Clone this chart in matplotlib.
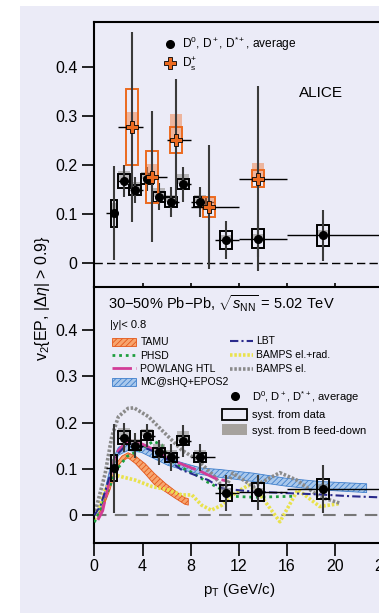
import numpy as np
import matplotlib
matplotlib.use("Agg")
import matplotlib.pyplot as plt
from matplotlib.lines import Line2D
from matplotlib.patches import Patch, Rectangle

plt.rcParams["font.family"] = ["Liberation Sans", "DejaVu Sans"]
plt.rcParams["mathtext.fontset"] = "custom"
plt.rcParams["mathtext.rm"] = "Liberation Sans"
plt.rcParams["mathtext.it"] = "Liberation Sans:italic"
plt.rcParams["mathtext.bf"] = "Liberation Sans:bold"
plt.rcParams["hatch.linewidth"] = 0.6

# ---- data: D0, D+, D*+ average ----
d_pt = [1.6, 2.45, 3.4, 4.35, 5.4, 6.4, 7.4, 8.8, 10.9, 13.6, 18.95]
d_lo = [1, 2, 3, 4, 5, 6, 7, 8, 10, 12, 16]
d_hi = [2, 3, 4, 5, 6, 7, 8, 10, 12, 16, 24]
d_v2 = [0.102, 0.168, 0.150, 0.172, 0.136, 0.125, 0.161, 0.125, 0.048, 0.050, 0.057]
d_stat = [0.096, 0.032, 0.027, 0.025, 0.027, 0.030, 0.035, 0.030, 0.039, 0.038, 0.052]
d_syst = [0.028, 0.014, 0.010, 0.010, 0.010, 0.010, 0.010, 0.010, 0.018, 0.019, 0.022]
d_fd = [0.020, 0.020, 0.015, 0.015, 0.018, 0.015, 0.022, 0.015, 0.010, 0.010, 0.010]

# ---- data: Ds+ ----
ds_pt = [3.15, 4.8, 6.75, 9.55, 13.6]
ds_lo = [2, 4, 6, 8, 12]
ds_hi = [4, 6, 8, 12, 16]
ds_v2 = [0.278, 0.177, 0.252, 0.115, 0.173]
ds_stat = [0.194, 0.133, 0.124, 0.127, 0.189]
ds_syst = [0.078, 0.053, 0.026, 0.021, 0.018]
ds_fd = [0.030, 0.025, 0.053, 0.020, 0.032]

# ---- models ----
tamu_x = [0.3, 0.6, 1.0, 1.3, 1.7, 2.0, 2.3, 2.8, 3.4, 4.2, 5.0, 5.9, 6.7, 7.5, 7.8]
tamu_lo = [-0.005, 0.006, 0.035, 0.055, 0.090, 0.108, 0.117, 0.124, 0.112, 0.090, 0.066, 0.051, 0.037, 0.024, 0.022]
tamu_hi = [0.000, 0.014, 0.045, 0.066, 0.102, 0.118, 0.128, 0.135, 0.128, 0.112, 0.090, 0.069, 0.053, 0.038, 0.036]

mc_x = [0.3, 0.8, 1.4, 2.0, 2.8, 3.9, 5.0, 6.1, 7.5, 8.9, 10.4, 13.2, 15.9, 18.7, 22.6]
mc_lo = [-0.004, 0.030, 0.095, 0.130, 0.140, 0.136, 0.122, 0.108, 0.097, 0.088, 0.082, 0.073, 0.063, 0.055, 0.049]
mc_hi = [0.004, 0.045, 0.112, 0.147, 0.155, 0.151, 0.138, 0.123, 0.112, 0.102, 0.099, 0.091, 0.080, 0.073, 0.068]

phsd_x = [0, 0.5, 1.0, 1.85, 2.7, 3.8, 4.9, 5.6, 6.2, 7.1, 8.2, 9.3, 10.4, 11.5, 13.2, 14.9, 16.5]
phsd_y = [-0.015, 0.010, 0.045, 0.098, 0.127, 0.141, 0.160, 0.152, 0.122, 0.105, 0.091, 0.073, 0.058, 0.041, 0.039, 0.040, 0.041]

pow_x = [0.3, 0.7, 1.2, 1.6, 2.0, 2.8, 3.65, 4.76, 6.14, 7.5, 8.9, 10.0, 11.0]
pow_y = [-0.010, 0.010, 0.070, 0.115, 0.140, 0.162, 0.158, 0.144, 0.122, 0.108, 0.094, 0.080, 0.074]

lbt_x = [0, 0.5, 1.0, 1.5, 2.0, 2.8, 3.9, 5.0, 6.1, 7.25, 8.35, 9.46, 10.57, 13.2, 15.9, 18.7, 21.4, 24.5]
lbt_y = [0.000, 0.020, 0.060, 0.105, 0.134, 0.156, 0.149, 0.137, 0.120, 0.098, 0.087, 0.076, 0.058, 0.051, 0.048, 0.045, 0.041, 0.038]

bel_x = [0, 0.9, 1.45, 2.0, 2.8, 3.3, 4.5, 5.6, 7.25, 8.6, 10.0, 10.8, 11.5, 13.2, 15.4, 16.8, 18.7, 20.4]
bel_y = [0.000, 0.090, 0.170, 0.213, 0.231, 0.232, 0.213, 0.184, 0.141, 0.119, 0.083, 0.055, 0.091, 0.062, 0.092, 0.076, 0.040, 0.026]

brad_x = [0, 0.9, 1.7, 2.3, 3.4, 4.8, 6.1, 7.25, 8.1, 8.9, 9.7, 10.6, 11.7, 12.8, 13.6, 15.4, 16.9, 18.7, 20.3]
brad_y = [-0.010, 0.055, 0.087, 0.083, 0.076, 0.062, 0.055, 0.044, 0.044, 0.022, 0.011, 0.022, 0.048, 0.065, 0.050, -0.014, 0.055, 0.019, 0.025]

xticks = [0, 4, 8, 12, 16, 20, 24]
yticks = [0, 0.1, 0.2, 0.3, 0.4]
ytick_labels = ["0", "0.1", "0.2", "0.3", "0.4"]

# ---- styles ----
ORANGE = "#EC6A1F"
LAV = "#EBEBF7"
d_boxw = [0.5, 1, 1, 1, 1, 1, 1, 1, 1, 1, 1]
W, H = 379, 613

fig = plt.figure(figsize=(W / 100, H / 100), dpi=100)
fig.patches.append(Rectangle((20 / W, 0), 1, 607 / H, transform=fig.transFigure,
                             facecolor=LAV, edgecolor="none", zorder=-10))

x0 = 94.3
pxu = 12.05
xmax = 24.5
ax_w = xmax * pxu / W
ax1 = fig.add_axes([x0 / W, 1 - 286.7 / H, ax_w, 265.0 / H])
ax2 = fig.add_axes([x0 / W, 1 - 542.7 / H, ax_w, 256.0 / H])

for ax in (ax1, ax2):
    ax.set_facecolor("none")
    ax.set_xlim(0, xmax)
    ax.set_xticks(xticks)
    ax.set_yticks(yticks)
    ax.set_yticklabels(ytick_labels)
    for s in ax.spines.values():
        s.set_linewidth(1.5)
    ax.spines["right"].set_visible(False)
    ax.tick_params(axis="y", direction="out", length=9, width=1.2, labelsize=11.5, pad=3)
    ax.axhline(0, color="black" if ax is ax1 else "#777777", lw=1.0 if ax is ax1 else 1.5,
               ls=(0, (6, 3)) if ax is ax1 else (0, (6, 4)), zorder=1)

ax1.set_ylim(-0.0478, 0.493)
ax2.set_ylim(-0.0592, 0.4937)
ax1.tick_params(axis="x", direction="in", length=3, width=1.2, labelbottom=False)
ax2.tick_params(axis="x", direction="out", length=9, width=1.2, labelsize=11.5, pad=3)
ax2.spines["top"].set_visible(False)


def draw_d(ax):
    v = np.array(d_v2)
    s = np.array(d_syst)
    ax.bar(d_pt, d_fd, bottom=v, width=d_boxw, color="#8c8985", alpha=0.55, lw=0, zorder=4)
    ax.bar(d_pt, 2 * s, bottom=v - s, width=d_boxw, fill=False, edgecolor="black", lw=1.4, zorder=5)
    ax.errorbar(d_pt, d_v2, yerr=d_stat, fmt="none", ecolor="#3a3a3a", elinewidth=1.5, zorder=5)
    xl = np.array(d_pt) - np.array(d_lo)
    xh = np.array(d_hi) - np.array(d_pt)
    ax.errorbar(d_pt, d_v2, xerr=[xl, xh], fmt="none", ecolor="black", elinewidth=1.0, zorder=5)
    ax.plot(d_pt, d_v2, "o", color="black", ms=5.5, zorder=7)


# ---- top panel ----
draw_d(ax1)
v = np.array(ds_v2)
s = np.array(ds_syst)
ax1.bar(ds_pt, ds_fd, bottom=v, width=1.0, color="#F08A55", alpha=0.55, lw=0, zorder=6)
ax1.bar(ds_pt, 2 * s, bottom=v - s, width=1.0, fill=False, edgecolor=ORANGE, lw=1.4, zorder=6)
ax1.errorbar(ds_pt, ds_v2, yerr=ds_stat, fmt="none", ecolor="#3a3a3a", elinewidth=1.5, zorder=6)
ax1.errorbar(ds_pt, ds_v2, xerr=[np.array(ds_pt) - np.array(ds_lo),
                                 np.array(ds_hi) - np.array(ds_pt)],
             fmt="none", ecolor="black", elinewidth=1.0, zorder=6)
ax1.plot(ds_pt, ds_v2, "P", color=ORANGE, mec="black", mew=0.6, ms=9, zorder=8)

h_d = Line2D([], [], ls="none", marker="o", color="black", ms=5.5)
h_ds = Line2D([], [], ls="none", marker="P", color=ORANGE, mec="black", mew=0.6, ms=9)
leg1 = ax1.legend([h_d, h_ds], [r"D$^0$, D$^+$, D$^{*+}$, average", r"D$_{\rm s}^{+}$"],
                  loc="upper left", bbox_to_anchor=(0.236, 0.95), frameon=False, fontsize=8.6,
                  handlelength=1.0, handletextpad=0.55, labelspacing=0.2, borderpad=0, borderaxespad=0)
ax1.text(0.768, 0.730, "ALICE", transform=ax1.transAxes, ha="center", va="center", fontsize=11)

# ---- bottom panel ----
ax2.fill_between(mc_x, mc_lo, mc_hi, facecolor="#A9C8EC", edgecolor="#3F7FCC", hatch="//////",
                 lw=0.6, zorder=2)
ax2.fill_between(tamu_x, tamu_lo, tamu_hi, facecolor="#F7A56E", edgecolor="#E4571A", hatch="//////",
                 lw=0.6, zorder=2)
l_brad, = ax2.plot(brad_x, brad_y, color="#E9E24C", lw=2.6, ls=(0, (0.7, 0.5)), zorder=2)
l_bel, = ax2.plot(bel_x, bel_y, color="#8a8a8a", lw=2.6, ls=(0, (0.7, 0.5)), zorder=2)
l_phsd, = ax2.plot(phsd_x, phsd_y, color="#1E9E3E", lw=2.0, ls=(0, (1, 1.4)), zorder=3)
l_pow, = ax2.plot(pow_x, pow_y, color="#D23C97", lw=2.0, ls=(0, (7, 1.5)), zorder=3)
l_lbt, = ax2.plot(lbt_x, lbt_y, color="#2A2A8C", lw=1.5, ls=(0, (4, 1.5, 1, 1.5)), zorder=3)
draw_d(ax2)

h_tamu = Patch(facecolor="#F7A56E", edgecolor="#E4571A", hatch="//////", lw=0.6)
h_mc = Patch(facecolor="#A9C8EC", edgecolor="#3F7FCC", hatch="//////", lw=0.6)
leg_a = ax2.legend([h_tamu, l_phsd, l_pow, h_mc], ["TAMU", "PHSD", "POWLANG HTL", "MC@sHQ+EPOS2"],
                   loc="upper left", bbox_to_anchor=(0.059, 0.802), frameon=False, fontsize=7.5,
                   handlelength=2.35, handleheight=0.8, handletextpad=0.4, labelspacing=0.32,
                   borderpad=0, borderaxespad=0)
ax2.add_artist(leg_a)
leg_b = ax2.legend([l_lbt, l_brad, l_bel], ["LBT", "BAMPS el.+rad.", "BAMPS el."],
                   loc="upper left", bbox_to_anchor=(0.461, 0.806), frameon=False, fontsize=7.5,
                   handlelength=2.2, handletextpad=0.3, labelspacing=0.38,
                   borderpad=0, borderaxespad=0)
ax2.add_artist(leg_b)
h_box = Patch(facecolor="none", edgecolor="black", lw=1.3)
h_fd = Patch(facecolor="#a6a29e", edgecolor="none")
leg_c = ax2.legend([h_d, h_box, h_fd], [r"D$^0$, D$^+$, D$^{*+}$, average", "syst. from data",
                                        "syst. from B feed-down"],
                   loc="upper left", bbox_to_anchor=(0.432, 0.60), frameon=False, fontsize=8,
                   handlelength=2.3, handleheight=1.1, handletextpad=0.4, labelspacing=0.38,
                   borderpad=0, borderaxespad=0)

ax2.text(0.046, 0.914, r"30$-$50% Pb$-$Pb, $\sqrt{s_{\rm NN}}$ = 5.02 TeV", transform=ax2.transAxes,
         ha="left", va="baseline", fontsize=10.5)
ax2.text(0.053, 0.838, r"|y|< 0.8", transform=ax2.transAxes, ha="left", va="baseline", fontsize=8)

fig.text(42 / W, 1 - 298 / H, r"v$_2${EP, |$\Delta\eta$| > 0.9}", rotation=90, ha="center",
         va="center", fontsize=11.5)
fig.text(239 / W, 1 - 590 / H, r"p$_{\rm T}$ (GeV/c)", ha="center", va="center", fontsize=10.8)

fig.savefig("out.png", dpi=100, facecolor="white")
